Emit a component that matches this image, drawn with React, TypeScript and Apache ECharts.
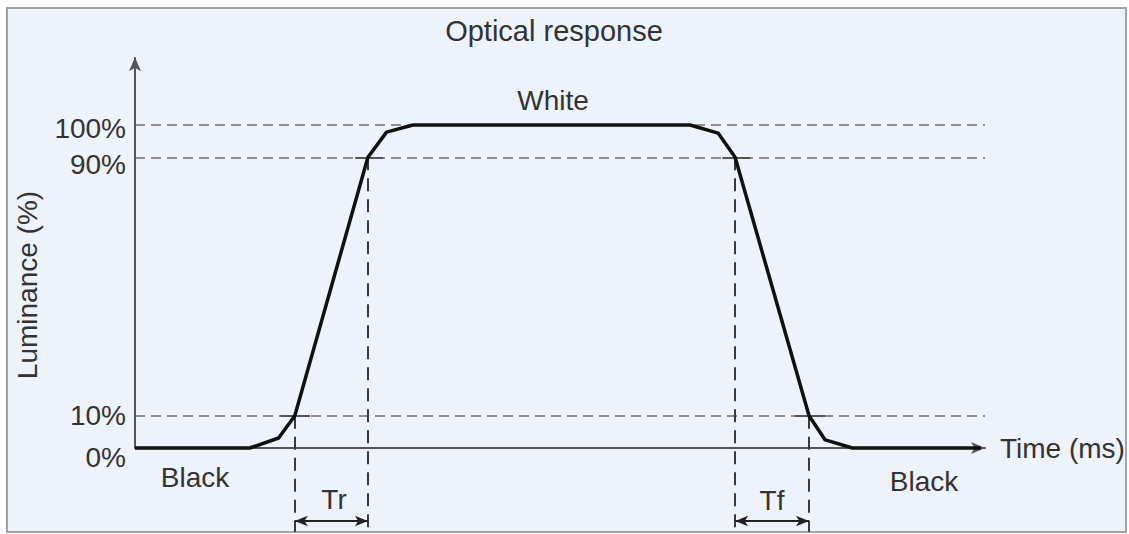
import React, { useEffect, useRef } from "react";
import * as echarts from "echarts";

// Luminance curve (time in arbitrary ms units, luminance in %)
const timeMs = [0, 13.5, 16.9, 18.8, 27.4, 29.6, 32.7, 65.3, 68.6, 70.6, 79.3, 81.2, 84.4, 99.5];
const luminance = [0, 0, 3.1, 10, 90, 97.8, 100, 100, 97.5, 90, 10, 2.5, 0, 0];

// Reference levels
const levels = [100, 90, 10];
const yTickValues = [0, 10, 90, 100];

// Rise / fall markers
const riseStart = 18.8; // 10%
const riseEnd = 27.4; // 90%
const fallStart = 70.6; // 90%
const fallEnd = 79.3; // 10%

const FONT = "'Liberation Sans', Arial, Helvetica, sans-serif";
const TEXT = "#333";

export default function App() {
  const ref = useRef<HTMLDivElement>(null);

  useEffect(() => {
    if (!ref.current) return;
    const chart = echarts.init(ref.current, undefined, { renderer: "svg" });

    const dashGray = { color: "#8f8f8f", width: 2.2, type: [10, 6] as any };
    const dashDark = { color: "#3a3a3a", width: 2, type: [13, 8] as any };
    const solidTick = { color: "#555", width: 2, type: "solid" as any };

    const seg = (a: number[], b: number[], lineStyle: any) => [
      { coord: a, lineStyle },
      { coord: b },
    ];

    const labelBase = { fontFamily: FONT, fontSize: 28, color: TEXT };
    const shiftStyle = (d: number) => ({ ...labelBase, padding: [2 * d, 0, 0, 0] });
    const labelShift: Record<number, string> = { 0: "d9", 10: "d0", 90: "d7", 100: "d3" };

    const option: any = {
      animation: false,
      title: {
        text: "Optical response",
        left: 549,
        top: 11,
        textAlign: "center",
        textStyle: { fontFamily: FONT, fontSize: 29, fontWeight: "normal", color: TEXT },
      },
      grid: { left: 135, right: 144, top: 57.2, bottom: 2, containLabel: false },
      xAxis: {
        type: "value",
        min: 0,
        max: 100,
        name: "Time (ms)",
        nameLocation: "end",
        nameGap: 15,
        nameTextStyle: { fontFamily: FONT, fontSize: 28, color: TEXT },
        axisLine: {
          show: true,
          onZero: true,
          symbol: ["none", "arrow"],
          symbolSize: [9, 14],
          lineStyle: { color: "#555", width: 2 },
        },
        axisTick: { show: false },
        axisLabel: { show: false },
        splitLine: { show: false },
      },
      yAxis: {
        type: "value",
        min: -26,
        max: 121,
        axisLine: { show: false },
        axisTick: { show: false },
        splitLine: { show: false },
        axisLabel: {
          customValues: yTickValues,
          formatter: (v: number) => `{${labelShift[v] || "d0"}|${v}%}`,
          ...labelBase,
          margin: 9,
          rich: {
            d0: shiftStyle(0),
            d3: shiftStyle(3),
            d7: shiftStyle(7),
            d9: shiftStyle(9),
          },
        },
      },
      graphic: [
        {
          type: "rect",
          z: -10,
          silent: true,
          shape: { x: 7, y: 8, width: 1119, height: 524 },
          style: { fill: "#eef2fa", stroke: "#a3a3a3", lineWidth: 2 },
        },
        {
          type: "text",
          x: 27,
          y: 285,
          rotation: Math.PI / 2,
          style: {
            text: "Luminance (%)",
            font: `28px ${FONT}`,
            fill: TEXT,
            align: "center",
            verticalAlign: "middle",
          },
        },
        {
          type: "text",
          x: 553,
          y: 100,
          style: { text: "White", font: `28px ${FONT}`, fill: TEXT, align: "center", verticalAlign: "middle" },
        },
        {
          type: "text",
          x: 195,
          y: 477,
          style: { text: "Black", font: `28px ${FONT}`, fill: TEXT, align: "center", verticalAlign: "middle" },
        },
        {
          type: "text",
          x: 924,
          y: 481,
          style: { text: "Black", font: `28px ${FONT}`, fill: TEXT, align: "center", verticalAlign: "middle" },
        },
        {
          type: "text",
          x: 334,
          y: 499,
          style: { text: "Tr", font: `28px ${FONT}`, fill: TEXT, align: "center", verticalAlign: "middle" },
        },
        {
          type: "text",
          x: 772,
          y: 500,
          style: { text: "Tf", font: `28px ${FONT}`, fill: TEXT, align: "center", verticalAlign: "middle" },
        },
      ],
      series: [
        {
          type: "line",
          data: [],
          silent: true,
          z: 1,
          markLine: {
            silent: true,
            symbol: "none",
            label: { show: false },
            data: [
              ...levels.map((v) => seg([0, v], [100, v], dashGray)),
              seg([riseStart, 10], [riseStart, -26], dashDark),
              seg([riseEnd, 90], [riseEnd, -26], dashDark),
              seg([fallStart, 90], [fallStart, -26], dashDark),
              seg([fallEnd, 10], [fallEnd, -26], dashDark),
              seg([17.1, 10], [20.6, 10], solidTick),
              seg([25.9, 90], [29.2, 90], solidTick),
              seg([69.1, 90], [72.4, 90], solidTick),
              seg([77.6, 10], [81.2, 10], solidTick),
            ],
          },
        },
        {
          type: "line",
          data: [],
          silent: true,
          z: 3,
          markLine: {
            silent: true,
            symbol: ["none", "arrow"],
            symbolSize: [9, 14],
            label: { show: false },
            lineStyle: { color: "#555", width: 2, type: "solid" },
            data: [[{ coord: [0, 0] }, { coord: [0, 121] }]],
          },
        },
        {
          type: "line",
          data: [],
          silent: true,
          z: 3,
          markLine: {
            silent: true,
            symbol: ["arrow", "arrow"],
            symbolSize: [8, 13],
            label: { show: false },
            lineStyle: { color: "#222", width: 2, type: "solid" },
            data: [
              [{ coord: [riseStart, -22.6] }, { coord: [riseEnd, -22.6] }],
              [{ coord: [fallStart, -22.6] }, { coord: [fallEnd, -22.6] }],
            ],
          },
        },
        {
          type: "line",
          data: timeMs.map((t, i) => [t, luminance[i]]),
          showSymbol: false,
          symbol: "none",
          silent: true,
          z: 5,
          lineStyle: { color: "#111", width: 3.5, join: "round" },
        },
      ],
    };

    chart.setOption(option);
    return () => chart.dispose();
  }, []);

  return (
    <div
      ref={ref}
      style={{ position: "fixed", left: 0, top: 0, width: 1129, height: 534, background: "#ffffff" }}
    />
  );
}
